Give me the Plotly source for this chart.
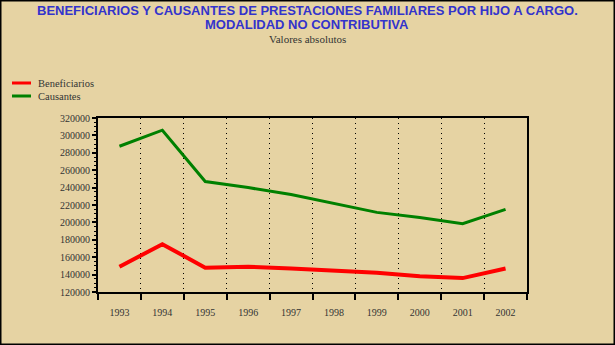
import plotly.graph_objects as go

# Datos (valores absolutos)
years = ['1993', '1994', '1995', '1996', '1997', '1998', '1999', '2000', '2001', '2002']
beneficiarios = [149000, 175000, 148000, 149000, 147000, 145000, 142000, 138000, 136000, 147000]
causantes = [287500, 306000, 247000, 240000, 232000, 221500, 211500, 205500, 198500, 215000]

series = [('Beneficiarios', beneficiarios, '#FF0000', 4), ('Causantes', causantes, '#008000', 3)]

bg = '#E6D3A3'
serif = 'Liberation Serif'
W, H = 615, 345
L, R, T, B = 98, 88, 118, 53
pw, ph = W - L - R, H - T - B


def px_x(x):
    return (x - L) / pw


def px_y(y):
    return (H - B - y) / ph


fig = go.Figure()

for name, vals, color, width in series:
    fig.add_trace(go.Scatter(
        x=years, y=vals, name=name, mode='lines',
        line=dict(color=color, width=width), showlegend=False,
    ))

# Titulo y subtitulo
title_font = dict(family='Liberation Sans', size=13, color='#3333CC', weight='bold')
for text, ypx, font in [
    ('BENEFICIARIOS Y CAUSANTES DE PRESTACIONES FAMILIARES POR HIJO A CARGO.', 11, title_font),
    ('MODALIDAD NO CONTRIBUTIVA', 25, title_font),
    ('Valores absolutos', 39, dict(family=serif, size=11, color='#333333')),
]:
    fig.add_annotation(text=text, xref='paper', yref='paper', x=px_x(307), y=px_y(ypx),
                       xanchor='center', yanchor='middle', showarrow=False, font=font)

# Leyenda manual
shapes = []
for i, (name, vals, color, width) in enumerate(series):
    ypx = 83 + i * 13
    shapes.append(dict(type='line', xref='paper', yref='paper',
                       x0=px_x(12), x1=px_x(31), y0=px_y(ypx), y1=px_y(ypx),
                       line=dict(color=color, width=3)))
    fig.add_annotation(text=name, xref='paper', yref='paper', x=px_x(36), y=px_y(ypx),
                       xanchor='left', yanchor='middle', showarrow=False,
                       font=dict(family=serif, size=10.5, color='#333333'))

# Marco exterior
shapes.append(dict(type='rect', xref='paper', yref='paper',
                   x0=px_x(0.75), x1=px_x(W - 0.75), y0=px_y(H - 0.75), y1=px_y(0.75),
                   line=dict(color='black', width=1.5), fillcolor='rgba(0,0,0,0)', layer='above'))

fig.update_layout(
    width=W, height=H,
    paper_bgcolor=bg, plot_bgcolor=bg,
    margin=dict(l=L, r=R, t=T, b=B, autoexpand=False),
    showlegend=False,
    xaxis=dict(
        type='category', tickson='boundaries',
        showline=True, linecolor='black', linewidth=2, mirror=True,
        ticks='outside', ticklen=6, tickcolor='black', tickwidth=2,
        showgrid=True, gridcolor='black', griddash='1px,4px', gridwidth=1,
        tickfont=dict(family=serif, size=10, color='#333333'),
        ticklabelstandoff=10,
        range=[-0.5, 9.5],
    ),
    yaxis=dict(
        range=[120000, 320000], dtick=20000, tickformat='d',
        showline=True, linecolor='black', linewidth=2, mirror=True,
        ticks='outside', ticklen=4, tickcolor='black', tickwidth=1.5,
        showgrid=False, zeroline=False,
        minor=dict(ticks='outside', ticklen=2, dtick=5000, tickcolor='black', tickwidth=1, showgrid=False),
        tickfont=dict(family=serif, size=10, color='#333333'),
    ),
    shapes=shapes,
)

fig.write_html('out.html', config={'displayModeBar': False},
               post_script="document.body.style.margin='0';")
